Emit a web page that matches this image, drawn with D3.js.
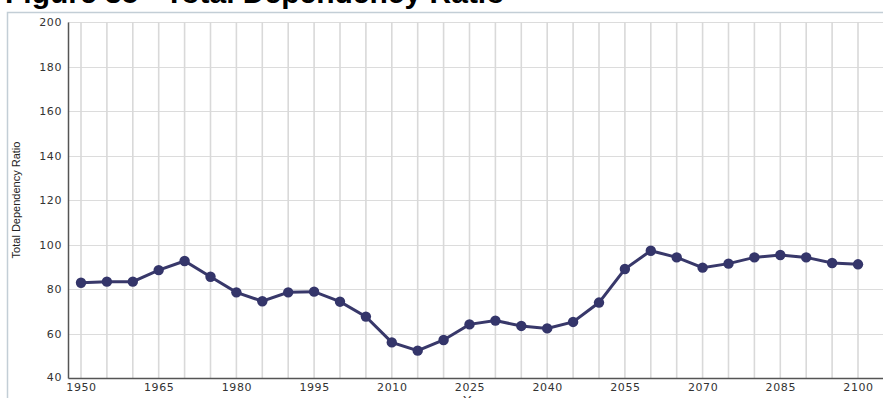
<!DOCTYPE html>
<html>
<head>
<meta charset="utf-8">
<script src="https://cdn.jsdelivr.net/npm/d3@7"></script>
<style>
  html, body { margin: 0; padding: 0; background: #fff; overflow: hidden; }
  svg { display: block; }
</style>
</head>
<body>
<svg id="chart" width="883" height="398"></svg>
<script>
const years = [1950,1955,1960,1965,1970,1975,1980,1985,1990,1995,2000,2005,2010,2015,2020,2025,2030,2035,2040,2045,2050,2055,2060,2065,2070,2075,2080,2085,2090,2095,2100];
const ratio = [82.8,83.3,83.3,88.5,92.6,85.5,78.5,74.5,78.5,78.8,74.3,67.6,56.0,52.3,57.1,64.1,65.8,63.4,62.3,65.2,73.9,89.0,97.2,94.2,89.6,91.4,94.2,95.3,94.2,91.7,91.1];
const xTickLabels = [1950,1965,1980,1995,2010,2025,2040,2055,2070,2085,2100];
const yTickLabels = [40,60,80,100,120,140,160,180,200];
const titleText = "Figure 35 - Total Dependency Ratio";
const yAxisTitle = "Total Dependency Ratio";
const xAxisTitle = "Year";

const svg = d3.select("#chart");

// frame
svg.append("path")
  .attr("d", "M7.5,398 V12.5 H883")
  .attr("fill", "none")
  .attr("stroke", "#c3ced6")
  .attr("stroke-width", 1.5);

// title (cut off at top, as in the reference)
svg.append("text")
  .attr("x", 5).attr("y", 3)
  .attr("font-family", "Liberation Sans, Arial, sans-serif")
  .attr("font-weight", "bold")
  .attr("font-size", 30)
  .attr("fill", "#000")
  .text(titleText);

const base = d3.scaleLinear().domain([1950, 2100]).range([81, 858]);
const x = d3.scaleLinear().domain([base.invert(68), base.invert(883)]).range([68, 883]);
const y = d3.scaleLinear().domain([40, 200]).range([378, 22]);

// grid
svg.append("g").selectAll("line").data(yTickLabels.slice(1)).join("line")
  .attr("x1", 68).attr("x2", 883)
  .attr("y1", d => Math.round(y(d)) + 0.5).attr("y2", d => Math.round(y(d)) + 0.5)
  .attr("stroke", "#dcdcdc").attr("stroke-width", 1);

svg.append("g").selectAll("line").data(years).join("line")
  .attr("x1", d => x(d)).attr("x2", d => x(d))
  .attr("y1", 22).attr("y2", 378)
  .attr("stroke", "#d9d9d9").attr("stroke-width", 1.6);

// axes
const xAxis = svg.append("g").attr("transform", "translate(0,378)")
  .call(d3.axisBottom(x).tickValues(xTickLabels).tickFormat(d3.format("d")).tickSize(0).tickPadding(5));
const yAxis = svg.append("g").attr("transform", "translate(68,0)")
  .call(d3.axisLeft(y).tickValues(yTickLabels).tickFormat(d3.format("d")).tickSize(0).tickPadding(6));

[xAxis, yAxis].forEach(a => {
  a.select(".domain").attr("stroke", "#555").attr("stroke-width", 1.5);
  a.selectAll("text").attr("font-family", "DejaVu Sans, Verdana, sans-serif")
    .attr("font-size", 11).attr("letter-spacing", 0.6).attr("fill", "#333");
});
yAxis.selectAll(".tick").filter(d => d === 40).select("text").attr("dy", "0.2em");

// axis titles
svg.append("text")
  .attr("transform", "translate(20,200) rotate(-90)")
  .attr("text-anchor", "middle")
  .attr("font-family", "Liberation Sans Narrow, Arial Narrow, Liberation Sans, sans-serif")
  .attr("font-size", 11)
  .attr("fill", "#222")
  .text(yAxisTitle);

svg.append("text")
  .attr("x", 477).attr("y", 405)
  .attr("text-anchor", "middle")
  .attr("font-family", "DejaVu Sans, Verdana, sans-serif")
  .attr("font-size", 13)
  .attr("fill", "#333")
  .text(xAxisTitle);

// line + points
const pts = years.map((yr, i) => [yr, ratio[i]]);
svg.append("path")
  .datum(pts)
  .attr("fill", "none")
  .attr("stroke", "#38386a")
  .attr("stroke-width", 3)
  .attr("d", d3.line().x(d => x(d[0])).y(d => y(d[1])));

svg.append("g").selectAll("circle").data(pts).join("circle")
  .attr("cx", d => x(d[0])).attr("cy", d => y(d[1]))
  .attr("r", 5.2)
  .attr("fill", "#34356a");
</script>
</body>
</html>
